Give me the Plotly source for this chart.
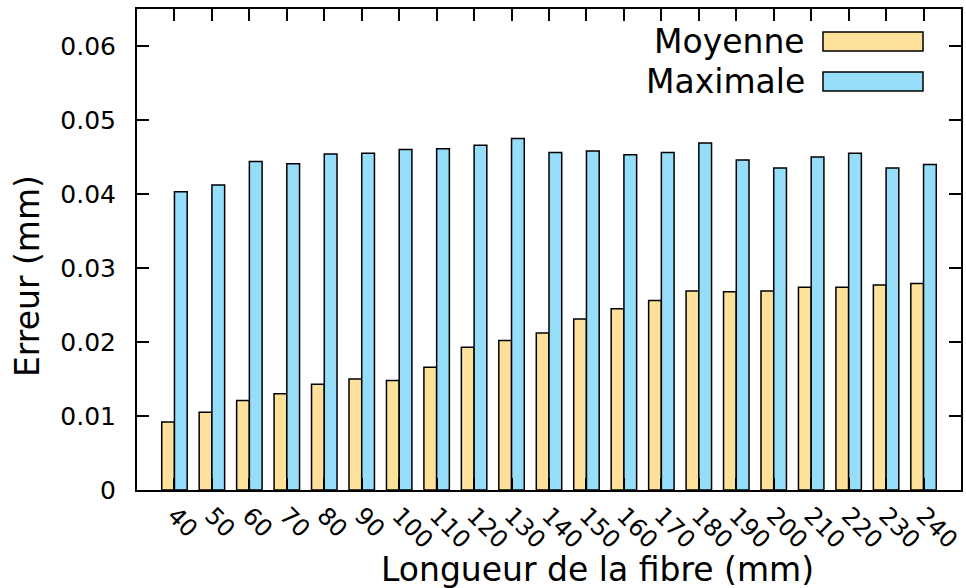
import plotly.graph_objects as go

categories = ["40", "50", "60", "70", "80", "90", "100", "110", "120", "130", "140",
              "150", "160", "170", "180", "190", "200", "210", "220", "230", "240"]
moyenne = [0.0092, 0.0105, 0.0121, 0.0130, 0.0143, 0.0150, 0.0148, 0.0166, 0.0193, 0.0202, 0.0212,
           0.0231, 0.0245, 0.0256, 0.0269, 0.0268, 0.0269, 0.0274, 0.0274, 0.0277, 0.0279]
maximale = [0.0403, 0.0412, 0.0444, 0.0441, 0.0454, 0.0455, 0.0460, 0.0461, 0.0466, 0.0475, 0.0456,
            0.0458, 0.0453, 0.0456, 0.0469, 0.0446, 0.0435, 0.0450, 0.0455, 0.0435, 0.0440]
y_ticks = [0, 0.01, 0.02, 0.03, 0.04, 0.05, 0.06]
y_ticktext = ["0", "0.01", "0.02", "0.03", "0.04", "0.05", "0.06"]
series_names = ["Moyenne", "Maximale"]
colors = ["#FDE09A", "#95DDF9"]

W, H = 966, 588
L, R, T, B = 137, 961, 9, 490
FONT = "DejaVu Sans"

def px_x(p):
    return (p - L) / (R - L)

def px_y(p):
    return (B - p) / (B - T)

fig = go.Figure()
for name, vals, col in zip(series_names, [moyenne, maximale], colors):
    fig.add_trace(go.Bar(x=categories, y=vals, name=name, marker_color=col,
                         marker_line_color="black", marker_line_width=1.5,
                         showlegend=False))

# manual legend (text on left, swatch on right, as in the original)
legend_rows = [(41.5, 0), (81.5, 1)]
for yc, i in legend_rows:
    fig.add_shape(type="rect", xref="paper", yref="paper",
                  x0=px_x(823), x1=px_x(923), y0=px_y(yc - 9.5), y1=px_y(yc + 9.5),
                  fillcolor=colors[i], line=dict(color="black", width=1.5))
    fig.add_annotation(xref="paper", yref="paper", x=px_x(807), y=px_y(yc),
                       text=series_names[i], showarrow=False, xanchor="right",
                       yanchor="middle", font=dict(family=FONT, size=33, color="black"))

# axis titles
fig.add_annotation(xref="paper", yref="paper", x=px_x(597), y=px_y(569),
                   text="Longueur de la fibre (mm)", showarrow=False,
                   xanchor="center", yanchor="middle",
                   font=dict(family=FONT, size=33, color="black"))
fig.add_annotation(xref="paper", yref="paper", x=px_x(27), y=px_y(276),
                   text="Erreur (mm)", showarrow=False, textangle=-90,
                   xanchor="center", yanchor="middle",
                   font=dict(family=FONT, size=33, color="black"))

fig.update_layout(
    width=W, height=H,
    margin=dict(l=L, r=W - R, t=T, b=H - B, pad=0, autoexpand=False),
    paper_bgcolor="white", plot_bgcolor="white",
    barmode="group", bargap=0.32, bargroupgap=0,
    font=dict(family=FONT, color="black"),
)
fig.update_xaxes(
    type="category", range=[-1, 21], automargin=False,
    showline=True, linecolor="black", linewidth=2, mirror="ticks",
    ticks="inside", ticklen=12, tickwidth=1.5, tickcolor="black",
    tickangle=45, tickfont=dict(family=FONT, size=24, color="black"),
    showgrid=False, zeroline=False,
)
fig.update_yaxes(
    range=[0, 0.065], tickvals=y_ticks, ticktext=y_ticktext, automargin=False,
    showline=True, linecolor="black", linewidth=2, mirror="ticks",
    ticks="inside", ticklen=12, tickwidth=1.5, tickcolor="black",
    tickfont=dict(family=FONT, size=25, color="black"),
    ticklabelstandoff=14,
    showgrid=False, zeroline=False,
)

fig.write_html("out.html", config={"displayModeBar": False},
               post_script="document.body.style.margin='0px';document.body.style.overflow='hidden';")
